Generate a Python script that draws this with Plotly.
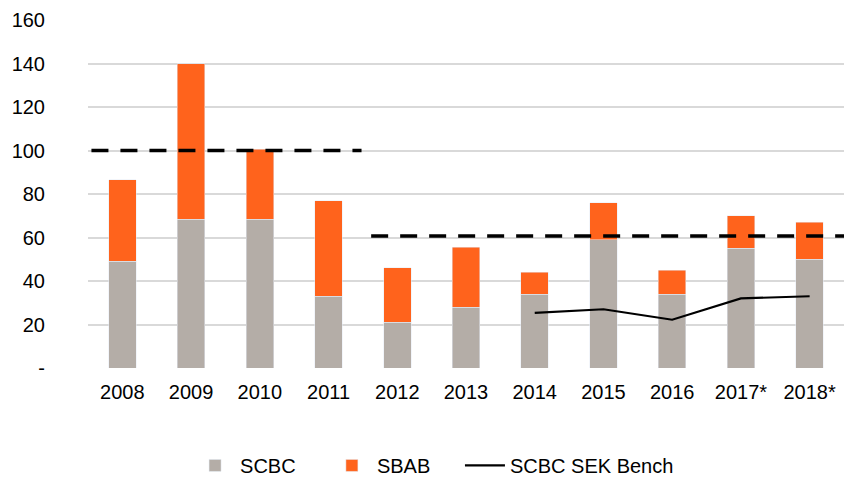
import plotly.graph_objects as go

years = ["2008", "2009", "2010", "2011", "2012", "2013", "2014", "2015", "2016", "2017*", "2018*"]
scbc = [49, 68.5, 68.5, 33, 21, 28, 34, 59, 34, 55, 50]
sbab = [37.5, 71.5, 32, 44, 25, 27.5, 10, 17, 11, 15, 17]
bench = [None, None, None, None, None, None, 25.3, 27, 22.2, 32, 33]

# horizontal reference levels (value, start category pos, end category pos)
ref_levels = [100, 60.7]
ref_start = [-0.45, 3.62]
ref_end = [3.48, 10.6]

y_ticks = [0, 20, 40, 60, 80, 100, 120, 140, 160]
y_labels = ["-", "20", "40", "60", "80", "100", "120", "140", "160"]

xpos = list(range(len(years)))
FONT = "Liberation Sans, Arial, sans-serif"

fig = go.Figure()
fig.add_trace(go.Bar(x=xpos, y=scbc, name="SCBC", marker_color="#B4ADA7", width=0.4,
                     legend="legend"))
fig.add_trace(go.Bar(x=xpos, y=sbab, name="SBAB", marker_color="#FF631C", width=0.4,
                     legend="legend2"))
fig.add_trace(go.Scatter(x=xpos, y=bench, name="SCBC SEK Bench", mode="lines",
                         line=dict(color="black", width=2.2), legend="legend3"))
for lv, s, e in zip(ref_levels, ref_start, ref_end):
    fig.add_trace(go.Scatter(x=[s, e], y=[lv, lv], mode="lines", showlegend=False,
                             line=dict(color="black", width=3.5, dash="17px,12px"),
                             hoverinfo="skip", cliponaxis=True))

leg_common = dict(orientation="h", xanchor="left", y=-0.28, yanchor="middle",
                  font=dict(size=20), itemwidth=40, bgcolor="rgba(0,0,0,0)")

fig.update_layout(
    width=844, height=478,
    barmode="stack",
    plot_bgcolor="white", paper_bgcolor="white",
    margin=dict(l=88, r=0, t=20, b=110, autoexpand=False),
    font=dict(family=FONT, size=20, color="#000000"),
    xaxis=dict(tickmode="array", tickvals=xpos, ticktext=years, range=[-0.5, 10.5],
               showgrid=False, zeroline=False, showline=False, ticks="",
               ticklabelstandoff=10, automargin=False),
    yaxis=dict(range=[0, 160], tickmode="array", tickvals=y_ticks, ticktext=y_labels,
               showgrid=True, gridcolor="#D9D9D9", gridwidth=1.5, zeroline=False,
               showline=False, ticks="", ticklabelstandoff=42, automargin=False),
    legend=dict(x=0.135, **leg_common),
    legend2=dict(x=0.316, **leg_common),
    legend3=dict(x=0.492, **leg_common),
    showlegend=True,
)

fig.write_html("out.html", post_script="document.body.style.margin='0';",
               config={"displayModeBar": False})
